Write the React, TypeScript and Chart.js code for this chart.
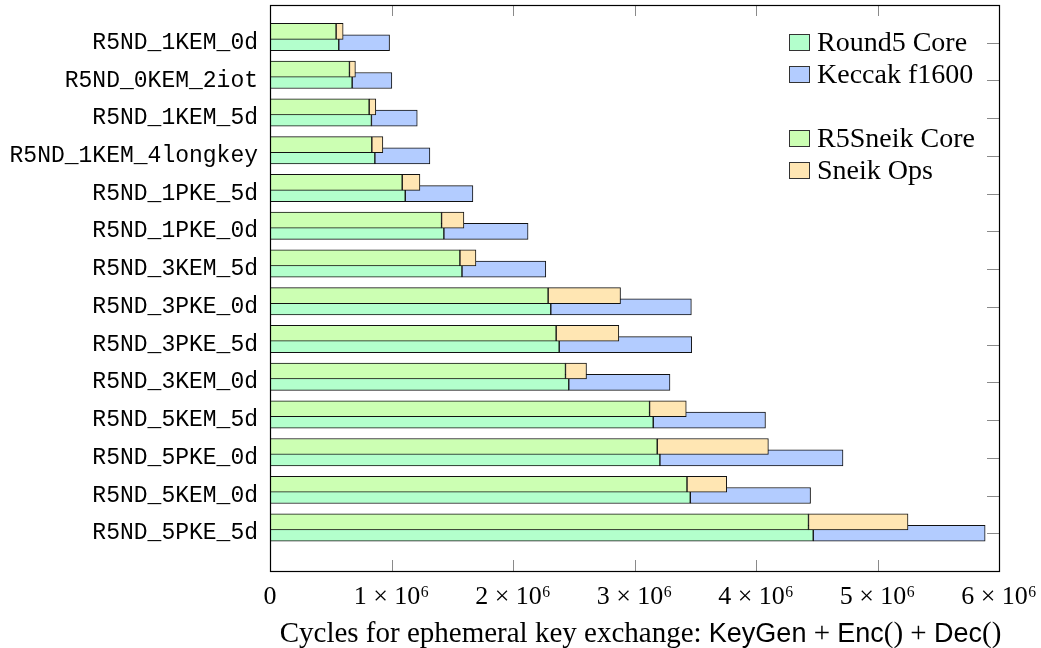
import React, { useEffect, useRef } from 'react';
import { Chart, registerables } from 'chart.js';

Chart.register(...registerables);

// ---------- data ----------
const categories = [
  'R5ND_1KEM_0d',
  'R5ND_0KEM_2iot',
  'R5ND_1KEM_5d',
  'R5ND_1KEM_4longkey',
  'R5ND_1PKE_5d',
  'R5ND_1PKE_0d',
  'R5ND_3KEM_5d',
  'R5ND_3PKE_0d',
  'R5ND_3PKE_5d',
  'R5ND_3KEM_0d',
  'R5ND_5KEM_5d',
  'R5ND_5PKE_0d',
  'R5ND_5KEM_0d',
  'R5ND_5PKE_5d',
];

const round5Core = [566e3, 676e3, 835e3, 863e3, 1113e3, 1431e3, 1580e3, 2311e3, 2380e3, 2459e3, 3154e3, 3209e3, 3459e3, 4471e3];
const keccakF1600 = [418e3, 327e3, 377e3, 453e3, 557e3, 693e3, 690e3, 1157e3, 1091e3, 833e3, 924e3, 1507e3, 990e3, 1415e3];
const r5sneikCore = [544e3, 654e3, 816e3, 838e3, 1088e3, 1412e3, 1563e3, 2289e3, 2355e3, 2432e3, 3124e3, 3187e3, 3432e3, 4432e3];
const sneikOps = [58e3, 49e3, 55e3, 91e3, 146e3, 184e3, 132e3, 596e3, 516e3, 173e3, 302e3, 915e3, 327e3, 819e3];

const xTickValues = [0, 1e6, 2e6, 3e6, 4e6, 5e6, 6e6];
const xTickLabels = ['0', '1 × 10⁶', '2 × 10⁶', '3 × 10⁶', '4 × 10⁶', '5 × 10⁶', '6 × 10⁶'];

// ---------- style ----------
const C_ROUND5 = 'rgb(179,255,204)';
const C_KECCAK = 'rgb(179,204,255)';
const C_SNEIK_CORE = 'rgb(204,255,179)';
const C_SNEIK_OPS = 'rgb(255,230,179)';
const BORDER = '#111';
const GROUP_SHIFT = 0.3;
const BAR_THICKNESS = 16;
const SERIF = '"Liberation Serif", "Times New Roman", serif';
const SANS = '"Liberation Sans", Arial, sans-serif';
const MONO = '"Liberation Mono", "DejaVu Sans Mono", monospace';

const W = 1041;
const H = 648;

const framePlugin = {
  id: 'frameTicks',
  afterDatasetsDraw(chart: any) {
    const { ctx, chartArea } = chart;
    const { left, right, top, bottom } = chartArea;
    const xs = chart.scales.x;
    const ys = chart.scales.y;
    const TL = 11;
    ctx.save();
    ctx.strokeStyle = '#8a8a8a';
    ctx.lineWidth = 1;
    ctx.beginPath();
    xTickValues.forEach((v) => {
      const px = Math.round(xs.getPixelForValue(v)) + 0.5;
      if (px <= left + 1 || px >= right - 1) return;
      ctx.moveTo(px, top);
      ctx.lineTo(px, top + TL);
      ctx.moveTo(px, bottom);
      ctx.lineTo(px, bottom - TL);
    });
    categories.forEach((_, i) => {
      const py = Math.round(ys.getPixelForValue(i)) + 0.5;
      ctx.moveTo(right, py);
      ctx.lineTo(right - TL - 1, py);
    });
    ctx.stroke();
    ctx.strokeStyle = '#000';
    ctx.lineWidth = 1.2;
    ctx.strokeRect(Math.round(left) + 0.5, Math.round(top) + 0.5, Math.round(right - left), Math.round(bottom - top));
    ctx.restore();
  },
};

const legendItems = [
  { label: 'Round5 Core', color: C_ROUND5 },
  { label: 'Keccak f1600', color: C_KECCAK },
  null,
  { label: 'R5Sneik Core', color: C_SNEIK_CORE },
  { label: 'Sneik Ops', color: C_SNEIK_OPS },
];

export default function App() {
  const ref = useRef<HTMLCanvasElement>(null);

  useEffect(() => {
    const lowerY = categories.map((_, i) => i);
    const upperY = categories.map((_, i) => i - GROUP_SHIFT);
    const mk = (label: string, values: number[], ys: number[], color: string, stack: string, order: number) => ({
      label,
      data: values.map((v, i) => ({ x: v, y: ys[i] })),
      backgroundColor: color,
      borderColor: BORDER,
      borderWidth: 1,
      borderSkipped: false,
      stack,
      order,
      grouped: false,
      barThickness: BAR_THICKNESS,
    });

    const chart = new Chart(ref.current as HTMLCanvasElement, {
      type: 'bar',
      data: {
        datasets: [
          mk('Round5 Core', round5Core, lowerY, C_ROUND5, 'round5', 1),
          mk('Keccak f1600', keccakF1600, lowerY, C_KECCAK, 'round5', 1),
          mk('R5Sneik Core', r5sneikCore, upperY, C_SNEIK_CORE, 'sneik', 0),
          mk('Sneik Ops', sneikOps, upperY, C_SNEIK_OPS, 'sneik', 0),
        ] as any,
      },
      options: {
        indexAxis: 'y',
        animation: false,
        responsive: false,
        maintainAspectRatio: false,
        layout: { padding: { left: 0, right: 42, top: 5, bottom: 0 } },
        plugins: { legend: { display: false }, tooltip: { enabled: false } },
        scales: {
          x: {
            type: 'linear',
            stacked: true,
            offset: false,
            min: 0,
            max: 6e6,
            grid: { display: false, drawTicks: false },
            border: { display: false },
            ticks: {
              stepSize: 1e6,
              autoSkip: false,
              maxRotation: 0,
              padding: 11,
              color: '#000',
              font: { family: SERIF, size: 26 },
              callback: (v: any) => {
                const idx = xTickValues.indexOf(Number(v));
                return idx >= 0 ? xTickLabels[idx] : null;
              },
            },
            afterFit: (s: any) => {
              s.height = 77;
              s.paddingLeft = 0;
              s.paddingRight = 0;
            },
          },
          y: {
            type: 'linear',
            reverse: true,
            offset: false,
            min: -1,
            max: categories.length,
            grid: { display: false, drawTicks: false },
            border: { display: false },
            ticks: {
              stepSize: 1,
              autoSkip: false,
              maxTicksLimit: 40,
              padding: 12,
              color: '#000',
              font: { family: MONO, size: 23 },
              callback: (v: any) => {
                const c = categories[Number(v)];
                return c === undefined ? null : c;
              },
            },
            afterFit: (s: any) => {
              s.width = 270;
              s.paddingTop = 0;
              s.paddingBottom = 0;
            },
          },
        } as any,
      },
      plugins: [framePlugin],
    });
    return () => chart.destroy();
  }, []);

  let top = 26;
  const legendRows = legendItems.map((it, i) => {
    const rowTop = top;
    top += 32;
    if (!it) return null;
    return (
      <div key={i} style={{ position: 'absolute', left: 789, top: rowTop, height: 32, display: 'flex', alignItems: 'center' }}>
        <div style={{ width: 21, height: 17, boxSizing: 'border-box', border: '1px solid #333', background: it.color }} />
        <span style={{ marginLeft: 7, font: `28px ${SERIF}`, lineHeight: '32px', color: '#000', whiteSpace: 'nowrap' }}>{it.label}</span>
      </div>
    );
  });

  return (
    <div style={{ position: 'absolute', left: 0, top: 0, width: W, height: H, background: '#fff' }}>
      <canvas ref={ref} width={W} height={H} style={{ display: 'block', width: W, height: H }} />
      {legendRows}
      <div
        style={{
          position: 'absolute',
          left: 276,
          width: 729,
          top: 616,
          height: 32,
          lineHeight: '32px',
          textAlign: 'center',
          whiteSpace: 'nowrap',
          font: `29px ${SERIF}`,
          color: '#000',
        }}
      >
        Cycles for ephemeral key exchange: <span style={{ fontFamily: SANS, fontSize: 27 }}>KeyGen</span> + <span style={{ fontFamily: SANS, fontSize: 27 }}>Enc</span>() + <span style={{ fontFamily: SANS, fontSize: 27 }}>Dec</span>()
      </div>
    </div>
  );
}
